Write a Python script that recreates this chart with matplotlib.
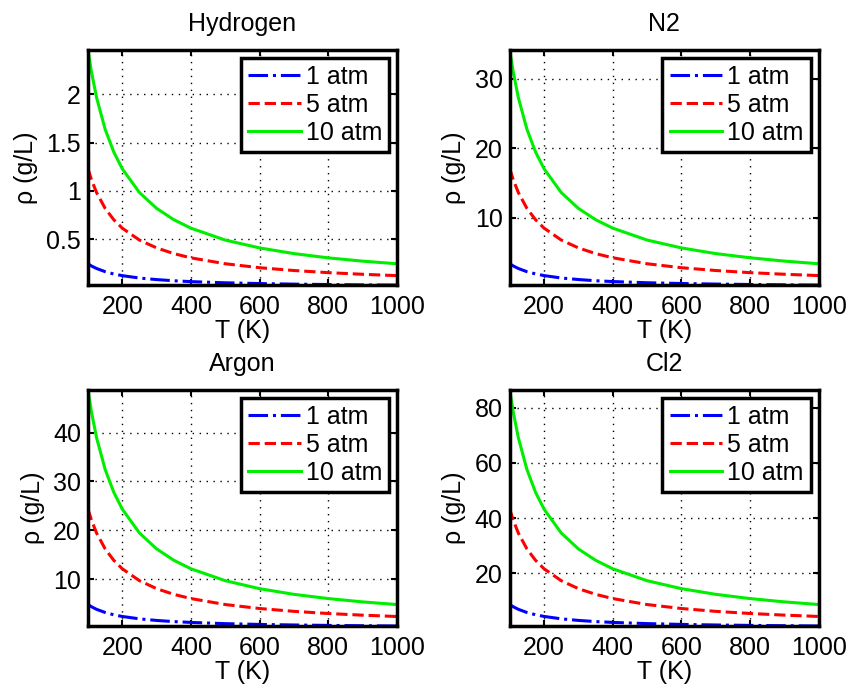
import numpy as np
import matplotlib
matplotlib.use('Agg')
import matplotlib.pyplot as plt

plt.rcParams['font.family'] = ['Liberation Sans', 'DejaVu Sans']

# temperatures (K) where the curves were read
T = [100, 110, 125, 150, 175, 200, 250, 300, 350, 400, 500, 600, 700, 800, 900, 1000]

gases = ['Hydrogen', 'N2', 'Argon', 'Cl2']
pressures = ['1 atm', '5 atm', '10 atm']

# density (g/L)
h2_1 = [0.246, 0.223, 0.197, 0.164, 0.140, 0.123, 0.098, 0.082, 0.070, 0.061, 0.049, 0.041, 0.035, 0.031, 0.027, 0.025]
h2_5 = [1.228, 1.117, 0.983, 0.819, 0.702, 0.614, 0.491, 0.410, 0.351, 0.307, 0.246, 0.205, 0.176, 0.154, 0.137, 0.123]
h2_10 = [2.457, 2.234, 1.966, 1.638, 1.404, 1.228, 0.983, 0.819, 0.702, 0.614, 0.491, 0.410, 0.351, 0.307, 0.273, 0.246]

n2_1 = [3.41, 3.10, 2.73, 2.27, 1.95, 1.71, 1.36, 1.14, 0.97, 0.85, 0.68, 0.57, 0.49, 0.43, 0.38, 0.34]
n2_5 = [17.06, 15.51, 13.65, 11.37, 9.75, 8.53, 6.82, 5.69, 4.87, 4.27, 3.41, 2.84, 2.44, 2.13, 1.90, 1.71]
n2_10 = [34.12, 31.02, 27.30, 22.75, 19.50, 17.06, 13.65, 11.37, 9.75, 8.53, 6.82, 5.69, 4.87, 4.27, 3.79, 3.41]

ar_1 = [4.87, 4.43, 3.89, 3.25, 2.78, 2.43, 1.95, 1.62, 1.39, 1.22, 0.97, 0.81, 0.70, 0.61, 0.54, 0.49]
ar_5 = [24.34, 22.13, 19.47, 16.23, 13.91, 12.17, 9.74, 8.11, 6.95, 6.09, 4.87, 4.06, 3.48, 3.04, 2.70, 2.43]
ar_10 = [48.68, 44.25, 38.94, 32.45, 27.82, 24.34, 19.47, 16.23, 13.91, 12.17, 9.74, 8.11, 6.95, 6.09, 5.41, 4.87]

cl2_1 = [8.64, 7.85, 6.91, 5.76, 4.94, 4.32, 3.46, 2.88, 2.47, 2.16, 1.73, 1.44, 1.23, 1.08, 0.96, 0.86]
cl2_5 = [43.20, 39.27, 34.56, 28.80, 24.69, 21.60, 17.28, 14.40, 12.34, 10.80, 8.64, 7.20, 6.17, 5.40, 4.80, 4.32]
cl2_10 = [86.40, 78.55, 69.12, 57.60, 49.37, 43.20, 34.56, 28.80, 24.69, 21.60, 17.28, 14.40, 12.34, 10.80, 9.60, 8.64]

data = [(h2_1, h2_5, h2_10), (n2_1, n2_5, n2_10), (ar_1, ar_5, ar_10), (cl2_1, cl2_5, cl2_10)]
yticks = [[0.5, 1, 1.5, 2], [10, 20, 30], [10, 20, 30, 40], [20, 40, 60, 80]]
xticks = [200, 400, 600, 800, 1000]

styles = [('b', '-.'), ('r', '--'), ('#00ee00', '-')]

fig = plt.figure(figsize=(8.51, 6.87), dpi=100)
boxes = [[0.1034, 0.585, 0.363, 0.342], [0.599, 0.585, 0.363, 0.342],
         [0.1034, 0.0888, 0.363, 0.3435], [0.599, 0.0888, 0.363, 0.3435]]

fs = 18
for k in range(4):
    ax = fig.add_axes(boxes[k])
    for s in range(3):
        c, ls = styles[s]
        ax.plot(T, data[k][s], color=c, linestyle=ls, lw=2.2, label=pressures[s])
    allv = np.concatenate(data[k])
    ax.set_xlim(100, 1000)
    ax.set_ylim(allv.min(), allv.max())
    ax.set_xticks(xticks)
    ax.set_yticks(yticks[k])
    ax.set_yticklabels([('%g' % v) for v in yticks[k]])
    ax.grid(True, color='k', linestyle=(0, (1, 4)), linewidth=1.0)
    ax.tick_params(direction='in', top=True, right=True, length=4, width=1.5,
                   labelsize=fs)
    ax.tick_params(axis='x', pad=7)
    ax.tick_params(axis='y', pad=5)
    for sp in ax.spines.values():
        sp.set_linewidth(2.5)
    ax.set_title(gases[k], fontsize=fs, pad=14)
    ax.set_xlabel('T (K)', fontsize=fs, labelpad=0)
    ax.set_ylabel('ρ (g/L)', fontsize=fs, labelpad=6)
    leg = ax.legend(loc='upper right', fontsize=fs, fancybox=False,
                    edgecolor='k', framealpha=1, handlelength=2.1,
                    handletextpad=0.2, borderaxespad=0.3, labelspacing=0.15,
                    borderpad=0.3)
    leg.get_frame().set_linewidth(2.5)

plt.savefig('out.png', dpi=100)
